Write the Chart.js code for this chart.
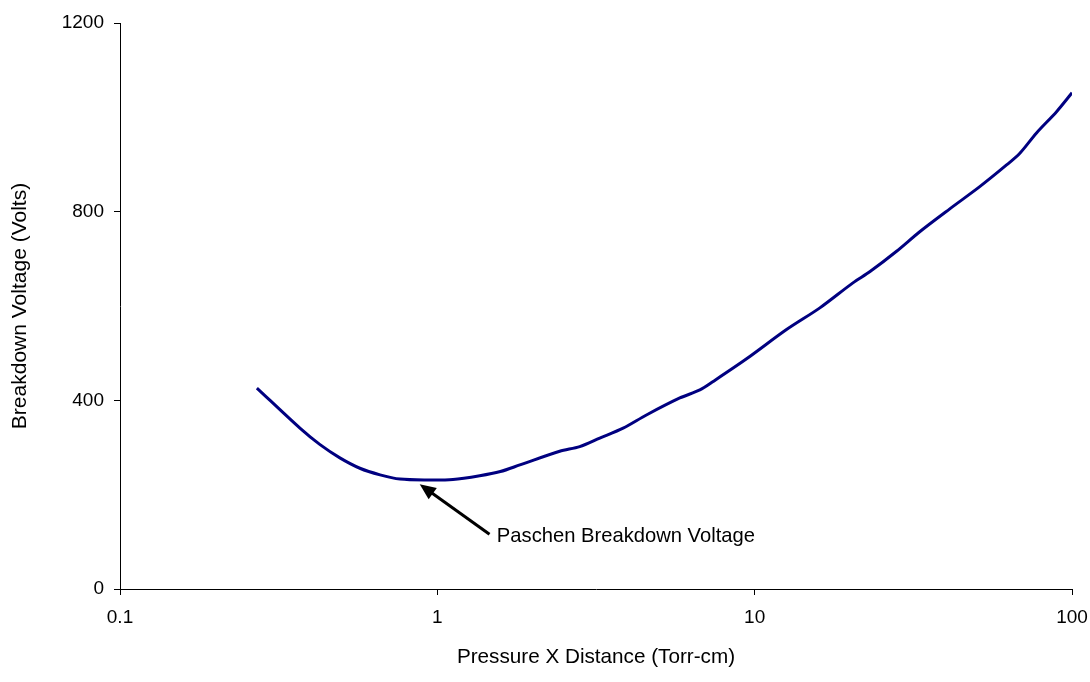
<!DOCTYPE html>
<html>
<head>
<meta charset="utf-8">
<script src="https://cdn.jsdelivr.net/npm/chart.js@4/dist/chart.umd.min.js"></script>
<style>
  html, body { margin: 0; padding: 0; background: #fff; }
  #wrap { width: 1090px; height: 682px; }
</style>
</head>
<body>
<div id="wrap"><canvas id="c" width="1090" height="682"></canvas></div>
<script>
// Pressure x distance (Torr-cm)
const pd = [0.27, 0.369, 0.427, 0.493, 0.570, 0.660, 0.763, 0.925, 1.12, 1.36,
            1.58, 1.82, 2.43, 2.81, 3.25, 3.85, 4.56, 5.81, 6.72, 7.40,
            9.43, 12.6, 16.05, 20.4, 23.1, 28.0, 33.2, 41.2, 51.2, 62.2,
            68.5, 77.3, 89.4, 100];
// Breakdown voltage (Volts)
const vb = [426, 341, 306, 278, 256, 242, 233, 231, 232, 240,
            249, 263, 292, 302, 320, 341, 369, 405, 422, 440,
            488, 550, 596, 649, 673, 716, 758, 806, 853, 899,
            924, 967, 1012, 1052];

const xTicks = [0.1, 1, 10, 100];
const xTickLabels = ['0.1', '1', '10', '100'];
const yTicks = [0, 400, 800, 1200];
const yTickLabels = ['0', '400', '800', '1200'];

const xTitle = 'Pressure X Distance (Torr-cm)';
const yTitle = 'Breakdown Voltage (Volts)';
const noteText = 'Paschen Breakdown Voltage';
// arrow tip (at the curve minimum), arrow tail, and label anchor in data units
const noteTip = [0.88, 222];
const noteTail = [1.46, 116];
const noteLabel = [1.54, 111];

const FONT = "'Liberation Sans', Arial, sans-serif";

const points = pd.map((x, i) => ({ x: x, y: vb[i] }));

const notePlugin = {
  id: 'note',
  afterDatasetsDraw(chart) {
    const { ctx, scales: { x, y } } = chart;
    const tx = x.getPixelForValue(noteTip[0]), ty = y.getPixelForValue(noteTip[1]);
    const sx = x.getPixelForValue(noteTail[0]), sy = y.getPixelForValue(noteTail[1]);
    const ang = Math.atan2(ty - sy, tx - sx);
    const headLen = 16, headW = 7;
    ctx.save();
    ctx.strokeStyle = '#000';
    ctx.fillStyle = '#000';
    ctx.lineWidth = 3;
    ctx.beginPath();
    ctx.moveTo(sx, sy);
    ctx.lineTo(tx - Math.cos(ang) * headLen * 0.8, ty - Math.sin(ang) * headLen * 0.8);
    ctx.stroke();
    ctx.beginPath();
    ctx.moveTo(tx, ty);
    ctx.lineTo(tx - Math.cos(ang) * headLen + Math.sin(ang) * headW,
               ty - Math.sin(ang) * headLen - Math.cos(ang) * headW);
    ctx.lineTo(tx - Math.cos(ang) * headLen - Math.sin(ang) * headW,
               ty - Math.sin(ang) * headLen + Math.cos(ang) * headW);
    ctx.closePath();
    ctx.fill();
    ctx.font = '20.2px ' + FONT;
    ctx.textAlign = 'left';
    ctx.textBaseline = 'middle';
    ctx.fillText(noteText, x.getPixelForValue(noteLabel[0]), y.getPixelForValue(noteLabel[1]));
    ctx.restore();
  }
};

new Chart(document.getElementById('c'), {
  type: 'line',
  data: {
    datasets: [{
      data: points,
      borderColor: '#000080',
      borderWidth: 3,
      pointRadius: 0,
      tension: 0.3,
      fill: false
    }]
  },
  options: {
    responsive: false,
    animation: false,
    events: [],
    layout: { padding: { top: 23, right: 18, bottom: 0, left: 0 } },
    plugins: { legend: { display: false }, tooltip: { enabled: false } },
    scales: {
      x: {
        type: 'logarithmic',
        min: 0.1,
        max: 100,
        afterBuildTicks(scale) { scale.ticks = xTicks.map(v => ({ value: v })); },
        afterFit(scale) {
          scale.height = 93;
          scale.paddingLeft = 0;
          scale.paddingRight = 0;
        },
        ticks: {
          color: '#000',
          font: { family: FONT, size: 19 },
          padding: 11,
          maxRotation: 0,
          autoSkip: false,
          callback(value) {
            const i = xTicks.indexOf(value);
            return i >= 0 ? xTickLabels[i] : '';
          }
        },
        grid: { drawOnChartArea: false, drawTicks: true, tickLength: 6, color: '#000', lineWidth: 1 },
        border: { display: true, color: '#000', width: 1 },
        title: { display: true, text: xTitle, color: '#000', font: { family: FONT, size: 20.7 }, padding: { top: 0, bottom: 12 } }
      },
      y: {
        type: 'linear',
        min: 0,
        max: 1200,
        afterBuildTicks(scale) { scale.ticks = yTicks.map(v => ({ value: v })); },
        afterFit(scale) {
          scale.width = 120;
          scale.paddingTop = 0;
          scale.paddingBottom = 0;
        },
        ticks: {
          color: '#000',
          font: { family: FONT, size: 19 },
          padding: 10,
          callback(value) {
            const i = yTicks.indexOf(value);
            return i >= 0 ? yTickLabels[i] : '';
          }
        },
        grid: { drawOnChartArea: false, drawTicks: true, tickLength: 6, color: '#000', lineWidth: 1 },
        border: { display: true, color: '#000', width: 1 },
        title: { display: true, text: yTitle, color: '#000', font: { family: FONT, size: 21 }, padding: { top: 8, bottom: 0 } }
      }
    }
  },
  plugins: [notePlugin]
});
</script>
</body>
</html>
